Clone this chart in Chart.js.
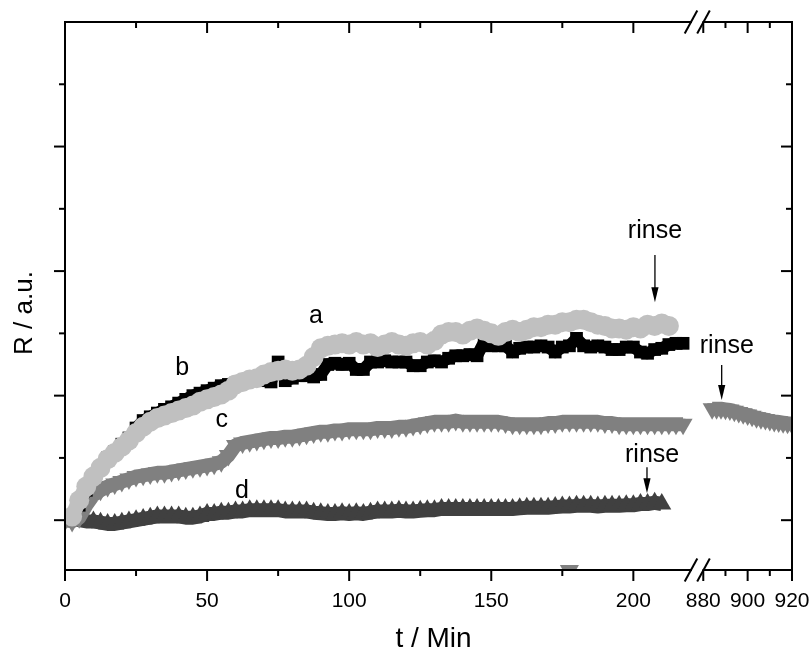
<!DOCTYPE html>
<html>
<head>
<meta charset="utf-8">
<title>R vs t</title>
<script src="https://cdn.jsdelivr.net/npm/chart.js"></script>
<style>
  html, body { margin: 0; padding: 0; background: #fff; }
  #wrap { width: 812px; height: 650px; }
</style>
</head>
<body>
<div id="wrap"><canvas id="chart" width="812" height="650"></canvas></div>
<script>
// time grid (min) for the first part of the run
const minutes = [
  0, 2.5, 5, 7.5, 10, 12.5, 15, 17.5, 20, 22.5, 25, 27.5, 30, 32.5, 35, 37.5, 40, 42.5, 45, 47.5,
  50, 52.5, 55, 57.5, 60, 62.5, 65, 67.5, 70, 72.5, 75, 77.5, 80, 82.5, 85, 87.5, 90, 92.5, 95, 97.5,
  100, 102.5, 105, 107.5, 110, 112.5, 115, 117.5, 120, 122.5, 125, 127.5, 130, 132.5, 135, 137.5, 140, 142.5, 145, 147.5,
  150, 152.5, 155, 157.5, 160, 162.5, 165, 167.5, 170, 172.5, 175, 177.5, 180, 182.5, 185, 187.5, 190, 192.5, 195, 197.5,
  200, 202.5, 205, 207.5, 210, 212.5, 215, 217.5, 220
];

const seriesA = [
  null, 0.03, 0.16, 0.27, 0.35, 0.42, 0.49, 0.54, 0.59, 0.64, 0.70, 0.75, 0.79, 0.82, 0.84, 0.86, 0.88, 0.90, 0.92, 0.95,
  0.97, 0.99, 1.01, 1.04, 1.09, 1.11, 1.13, 1.14, 1.17, 1.19, 1.20, 1.21, 1.20, 1.21, 1.24, 1.31, 1.38, 1.40, 1.41, 1.42,
  1.41, 1.43, 1.41, 1.42, 1.39, 1.41, 1.43, 1.41, 1.40, 1.42, 1.43, 1.41, 1.44, 1.49, 1.51, 1.51, 1.49, 1.52, 1.54, 1.52,
  1.50, 1.48, 1.51, 1.53, 1.51, 1.53, 1.55, 1.55, 1.57, 1.57, 1.59, 1.59, 1.61, 1.61, 1.59, 1.57, 1.56, 1.54, 1.54, 1.53,
  1.55, 1.54, 1.57, 1.56, 1.58, 1.56, null, null, null
];

const seriesB = [
  null, 0.02, 0.12, 0.24, 0.34, 0.42, 0.50, 0.55, 0.61, 0.66, 0.74, 0.80, 0.83, 0.86, 0.89, 0.91, 0.94, 0.97, 1.00, 1.02,
  1.04, 1.06, 1.08, 1.09, 1.10, 1.11, 1.12, 1.13, 1.12, 1.11, 1.27, 1.12, 1.14, 1.16, 1.16, 1.15, 1.17, 1.25, 1.26, 1.25,
  1.26, 1.21, 1.21, 1.27, 1.27, 1.28, 1.27, 1.27, 1.27, 1.24, 1.24, 1.27, 1.28, 1.27, 1.30, 1.32, 1.32, 1.33, 1.32, 1.43,
  1.40, 1.40, 1.40, 1.35, 1.38, 1.39, 1.39, 1.40, 1.39, 1.35, 1.39, 1.40, 1.46, 1.40, 1.39, 1.40, 1.39, 1.37, 1.37, 1.39,
  1.39, 1.35, 1.34, 1.37, 1.38, 1.41, 1.42, 1.42, null
];

const seriesC = [
  0.00, -0.01, 0.02, 0.12, 0.20, 0.24, 0.27, 0.29, 0.31, 0.33, 0.35, 0.36, 0.37, 0.38, 0.38, 0.39, 0.40, 0.41, 0.42, 0.43,
  0.44, 0.45, 0.47, 0.52, 0.60, 0.62, 0.63, 0.64, 0.65, 0.66, 0.66, 0.67, 0.67, 0.68, 0.69, 0.70, 0.71, 0.71, 0.72, 0.72,
  0.73, 0.73, 0.73, 0.73, 0.74, 0.74, 0.74, 0.75, 0.75, 0.76, 0.77, 0.78, 0.79, 0.79, 0.79, 0.80, 0.79, 0.79, 0.79, 0.79,
  0.79, 0.79, 0.78, 0.77, 0.77, 0.77, 0.77, 0.77, 0.78, 0.78, 0.79, 0.79, 0.79, 0.79, 0.79, 0.79, 0.78, 0.78, 0.77, 0.77,
  0.77, 0.77, 0.77, 0.77, 0.77, 0.77, 0.77, 0.77, null
];
// one stray reading of c that falls to the bottom of the axis
const strayMinutes = [177.5];
const strayC = [-0.405];

const seriesD = [
  0.00, 0.01, 0.00, -0.01, -0.01, -0.02, -0.03, -0.03, -0.02, -0.01, 0.00, 0.01, 0.02, 0.03, 0.03, 0.03, 0.03, 0.02, 0.02, 0.03,
  0.05, 0.05, 0.06, 0.06, 0.07, 0.07, 0.08, 0.08, 0.08, 0.08, 0.08, 0.07, 0.07, 0.07, 0.07, 0.06, 0.055, 0.05, 0.05, 0.055,
  0.05, 0.055, 0.05, 0.06, 0.07, 0.07, 0.07, 0.075, 0.07, 0.07, 0.075, 0.08, 0.08, 0.09, 0.09, 0.09, 0.09, 0.09, 0.09, 0.09,
  0.09, 0.09, 0.09, 0.09, 0.095, 0.10, 0.10, 0.10, 0.10, 0.105, 0.11, 0.11, 0.115, 0.115, 0.115, 0.11, 0.115, 0.115, 0.115, 0.12,
  0.12, 0.13, 0.13, 0.14, 0.13, null, null, null, null
];

// series c after the axis break
const lateMinutes = [884, 886, 888, 890, 892, 894, 896, 898, 900, 902, 904, 906, 908, 910, 912, 914, 916, 918, 920];
const seriesCLate = [0.895, 0.895, 0.895, 0.89, 0.885, 0.875, 0.865, 0.855, 0.845, 0.835, 0.822, 0.815, 0.808, 0.80, 0.793, 0.788, 0.783, 0.778, 0.775];

// axis ticks
const earlyMajor = [0, 50, 100, 150, 200];
const earlyMinor = [25, 75, 125, 175];
const lateMajor = [880, 900, 920];
const lateMinor = [890, 910];
const levelMajor = [0, 1, 2, 3];
const levelMinor = [0.5, 1.5, 2.5, 3.5];

// text labels on the curves (axis, minute, level of baseline)
const curveLabels = [
  {text: 'a', axis: 'x', t: 88.3, v: 1.584},
  {text: 'b', axis: 'x', t: 41.2, v: 1.166},
  {text: 'c', axis: 'x', t: 55.2, v: 0.748},
  {text: 'd', axis: 'x', t: 62.3, v: 0.177}
];
const rinseNotes = [
  {axis: 'x', t: 207.6, v: 2.267, at: 207.6, from: 2.13, to: 1.75},
  {axis: 'x2', t: 890.6, v: 1.342, at: 888.3, from: 1.246, to: 0.965},
  {axis: 'x', t: 206.6, v: 0.466, at: 204.8, from: 0.426, to: 0.217}
];

function points(times, values) {
  const out = [];
  times.forEach((t, i) => {
    if (values[i] !== null && values[i] !== undefined) out.push({x: t, y: values[i]});
  });
  return out;
}

const FONT = '"Liberation Sans", Arial, Helvetica, sans-serif';

const frame = {
  id: 'frame',
  afterDatasetsDraw(chart) {
    const {ctx, chartArea: area, scales} = chart;
    const sx = scales.x, sx2 = scales.x2, sy = scales.y;
    const brk = sx.right;
    const cut1 = brk - 6, cut2 = brk + 6.5;
    ctx.save();
    ctx.strokeStyle = '#000';
    ctx.fillStyle = '#000';
    ctx.lineWidth = 2;
    ctx.lineCap = 'square';

    function line(x0, y0, x1, y1) {
      ctx.beginPath();
      ctx.moveTo(x0, y0);
      ctx.lineTo(x1, y1);
      ctx.stroke();
    }

    // frame
    line(area.left, area.top, area.left, area.bottom);
    line(area.right, area.top, area.right, area.bottom);
    [area.top, area.bottom].forEach(yy => {
      line(area.left, yy, cut1, yy);
      line(cut2, yy, area.right, yy);
    });
    ctx.lineCap = 'butt';
    // break marks
    [area.top, area.bottom].forEach(yy => {
      [cut1, cut2].forEach(cx => line(cx - 6.3, yy + 11.5, cx + 6.3, yy - 11.5));
    });

    // x ticks: bottom outward, top inward
    function xTicks(scale, vals, len) {
      vals.forEach(v => {
        const px = scale.getPixelForValue(v);
        line(px, area.bottom, px, area.bottom + len);
        line(px, area.top, px, area.top + len);
      });
    }
    xTicks(sx, earlyMajor, 11);
    xTicks(sx, earlyMinor, 6);
    xTicks(sx2, lateMajor, 11);
    xTicks(sx2, lateMinor, 6);

    // y ticks: left outward, right inward
    function yTicks(vals, len) {
      vals.forEach(v => {
        const py = sy.getPixelForValue(v);
        line(area.left, py, area.left - len, py);
        line(area.right, py, area.right - len, py);
      });
    }
    yTicks(levelMajor, 11);
    yTicks(levelMinor, 6);

    // tick labels
    ctx.font = '21px ' + FONT;
    ctx.textAlign = 'center';
    ctx.textBaseline = 'alphabetic';
    earlyMajor.forEach(v => ctx.fillText(String(v), sx.getPixelForValue(v), area.bottom + 37));
    lateMajor.forEach(v => ctx.fillText(String(v), sx2.getPixelForValue(v), area.bottom + 37));

    // axis titles
    ctx.font = '28px ' + FONT;
    ctx.fillText('t / Min', (area.left + area.right) / 2 + 5, area.bottom + 77);
    ctx.font = '26px ' + FONT;
    ctx.save();
    ctx.translate(32, 313);
    ctx.rotate(-Math.PI / 2);
    ctx.fillText('R / a.u.', 0, 0);
    ctx.restore();

    // curve labels
    ctx.font = '25px ' + FONT;
    curveLabels.forEach(l => {
      ctx.fillText(l.text, scales[l.axis].getPixelForValue(l.t), sy.getPixelForValue(l.v));
    });

    // rinse notes with arrows
    rinseNotes.forEach(n => {
      const sc = scales[n.axis];
      ctx.fillText('rinse', sc.getPixelForValue(n.t), sy.getPixelForValue(n.v));
      const ax = sc.getPixelForValue(n.at);
      const y0 = sy.getPixelForValue(n.from), y1 = sy.getPixelForValue(n.to);
      ctx.lineWidth = 1.3;
      line(ax, y0, ax, y1 - 12);
      ctx.beginPath();
      ctx.moveTo(ax - 3.6, y1 - 15);
      ctx.lineTo(ax + 3.6, y1 - 15);
      ctx.lineTo(ax, y1);
      ctx.closePath();
      ctx.fill();
    });
    ctx.restore();
  }
};

// dense scatter of markers, drawn as a band: thick line plus markers
function band(label, times, values, style, radius, width, color, axis, rotation) {
  return {
    label: label,
    data: points(times, values),
    xAxisID: axis,
    yAxisID: 'y',
    showLine: width > 0,
    borderColor: color,
    borderWidth: width,
    borderJoinStyle: 'round',
    borderCapStyle: 'butt',
    tension: 0,
    pointStyle: style,
    pointRadius: radius,
    pointHoverRadius: radius,
    pointRotation: rotation || 0,
    pointBackgroundColor: color,
    pointBorderWidth: 0,
    pointBorderColor: color,
    clip: 0
  };
}

new Chart(document.getElementById('chart'), {
  type: 'scatter',
  data: {
    datasets: [
      band('a', minutes, seriesA, 'circle', 10, 15, '#c0c0c0', 'x'),
      band('b', minutes, seriesB, 'rect', 9, 12, '#000000', 'x'),
      band('c', minutes, seriesC, 'triangle', 11, 14, '#808080', 'x', 180),
      band('c stray', strayMinutes, strayC, 'triangle', 11, 0, '#808080', 'x', 180),
      band('c late', lateMinutes, seriesCLate, 'triangle', 11, 14, '#808080', 'x2', 180),
      band('d', minutes, seriesD, 'triangle', 11, 14, '#404040', 'x')
    ]
  },
  options: {
    responsive: false,
    animation: false,
    events: [],
    layout: {padding: {left: 65, right: 20, top: 22, bottom: 80}},
    scales: {
      x: {type: 'linear', display: false, position: 'bottom', stack: 'time', stackWeight: 632, min: 0, max: 222.4},
      x2: {type: 'linear', display: false, position: 'bottom', stack: 'time', stackWeight: 95, min: 877.17, max: 920},
      y: {type: 'linear', display: false, position: 'left', min: -0.4, max: 4}
    },
    plugins: {
      legend: {display: false},
      tooltip: {enabled: false}
    }
  },
  plugins: [frame]
});
</script>
</body>
</html>
